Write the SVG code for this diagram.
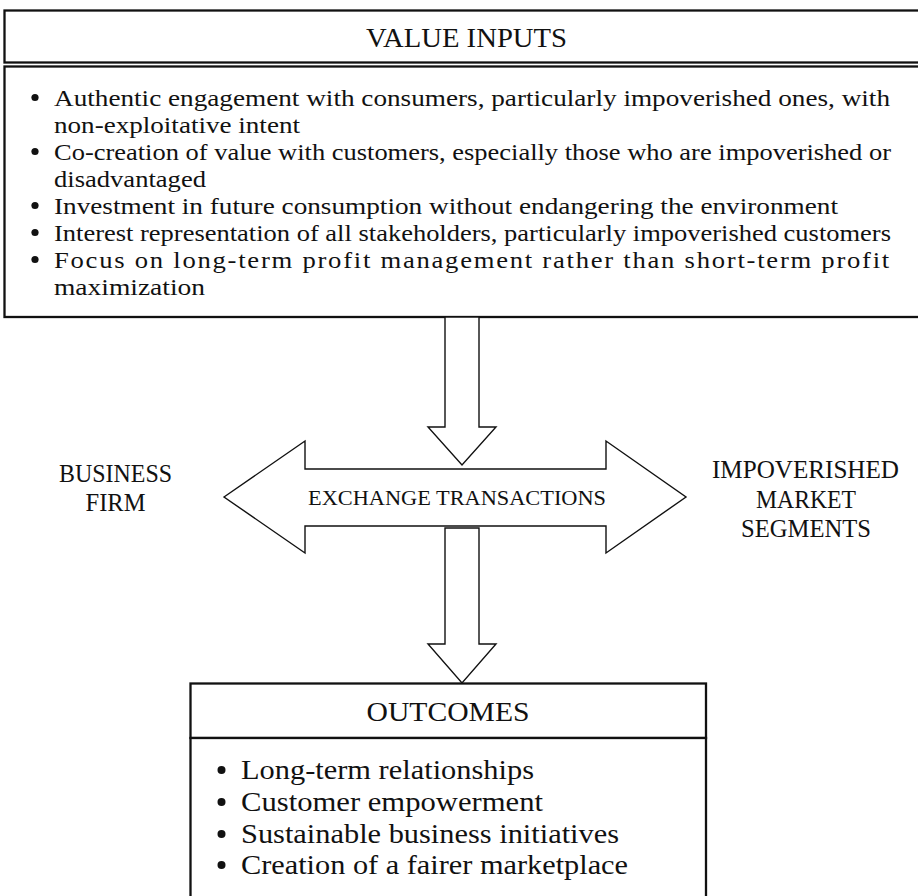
<svg xmlns="http://www.w3.org/2000/svg" width="918" height="896" viewBox="0 0 918 896">
<style>
  text { font-family: "Liberation Serif", "Times New Roman", serif; fill: #111; }
  .box { fill: #fff; stroke: #111; stroke-width: 2.3; }
  .arrow { fill: #fff; stroke: #111; stroke-width: 1.4; stroke-linejoin: miter; }
  .head { font-size: 28px; text-anchor: middle; }
  .item { font-size: 23px; }
  .out { font-size: 26.5px; }
  .side { font-size: 24.5px; text-anchor: middle; }
  .bul { fill: #111; }
</style>
<rect width="918" height="896" fill="#fff"/>

<g id="value-inputs">
  <rect class="box" x="4.5" y="10.5" width="930" height="52"/>
  <rect class="box" x="4.5" y="66.5" width="930" height="250.5"/>
  <text class="head" x="466.5" y="47" textLength="201" lengthAdjust="spacingAndGlyphs">VALUE INPUTS</text>
  <circle class="bul" cx="35" cy="97.5" r="3.6"/>
  <circle class="bul" cx="35" cy="151.5" r="3.6"/>
  <circle class="bul" cx="35" cy="205.5" r="3.6"/>
  <circle class="bul" cx="35" cy="232.5" r="3.6"/>
  <circle class="bul" cx="35" cy="259.5" r="3.6"/>
  <text class="item" x="54" y="105.5" textLength="836" lengthAdjust="spacingAndGlyphs">Authentic engagement with consumers, particularly impoverished ones, with</text>
  <text class="item" x="54" y="132.5" textLength="246" lengthAdjust="spacingAndGlyphs">non-exploitative intent</text>
  <text class="item" x="54" y="159.5" textLength="837" lengthAdjust="spacingAndGlyphs">Co-creation of value with customers, especially those who are impoverished or</text>
  <text class="item" x="54" y="186.5" textLength="152" lengthAdjust="spacingAndGlyphs">disadvantaged</text>
  <text class="item" x="54" y="213.5" textLength="784" lengthAdjust="spacingAndGlyphs">Investment in future consumption without endangering the environment</text>
  <text class="item" x="54" y="240.5" textLength="837" lengthAdjust="spacingAndGlyphs">Interest representation of all stakeholders, particularly impoverished customers</text>
  <text class="item" x="54" y="267.5" letter-spacing="1.5" textLength="837" lengthAdjust="spacingAndGlyphs">Focus on long-term profit management rather than short-term profit</text>
  <text class="item" x="54" y="294.5" textLength="151" lengthAdjust="spacingAndGlyphs">maximization</text>
</g>

<g id="connectors">
  <polygon class="arrow" points="445,317 479,317 479,427 496,427 462,465 428,427 445,427"/>
  <polygon class="arrow" points="445,528 479,528 479,644 496,644 462,683 428,644 445,644"/>
</g>

<g id="exchange-transactions">
  <polygon class="arrow" points="224,497 305,441 305,469 606,469 606,441 686,497 606,553 606,526 305,526 305,553"/>
  <text x="457" y="505" font-size="20.5" text-anchor="middle" textLength="298" lengthAdjust="spacingAndGlyphs">EXCHANGE TRANSACTIONS</text>
</g>

<g id="business-firm">
  <text class="side" x="115.5" y="482" textLength="113" lengthAdjust="spacingAndGlyphs">BUSINESS</text>
  <text class="side" x="115.5" y="511" textLength="60" lengthAdjust="spacingAndGlyphs">FIRM</text>
</g>

<g id="impoverished-market-segments">
  <text class="side" x="805.5" y="478" textLength="187" lengthAdjust="spacingAndGlyphs">IMPOVERISHED</text>
  <text class="side" x="806" y="508" textLength="100" lengthAdjust="spacingAndGlyphs">MARKET</text>
  <text class="side" x="806" y="537" textLength="130" lengthAdjust="spacingAndGlyphs">SEGMENTS</text>
</g>

<g id="outcomes">
  <rect class="box" x="190.5" y="683.5" width="515.5" height="54.5"/>
  <rect class="box" x="190.5" y="738" width="515.5" height="200"/>
  <text class="head" x="448" y="721" textLength="163" lengthAdjust="spacingAndGlyphs">OUTCOMES</text>
  <circle class="bul" cx="221.5" cy="770" r="4"/>
  <circle class="bul" cx="221.5" cy="802" r="4"/>
  <circle class="bul" cx="221.5" cy="834" r="4"/>
  <circle class="bul" cx="221.5" cy="865" r="4"/>
  <text class="out" x="241" y="779" textLength="293" lengthAdjust="spacingAndGlyphs">Long-term relationships</text>
  <text class="out" x="241" y="811" textLength="302" lengthAdjust="spacingAndGlyphs">Customer empowerment</text>
  <text class="out" x="241" y="843" textLength="378" lengthAdjust="spacingAndGlyphs">Sustainable business initiatives</text>
  <text class="out" x="241" y="874" textLength="387" lengthAdjust="spacingAndGlyphs">Creation of a fairer marketplace</text>
</g>
</svg>
